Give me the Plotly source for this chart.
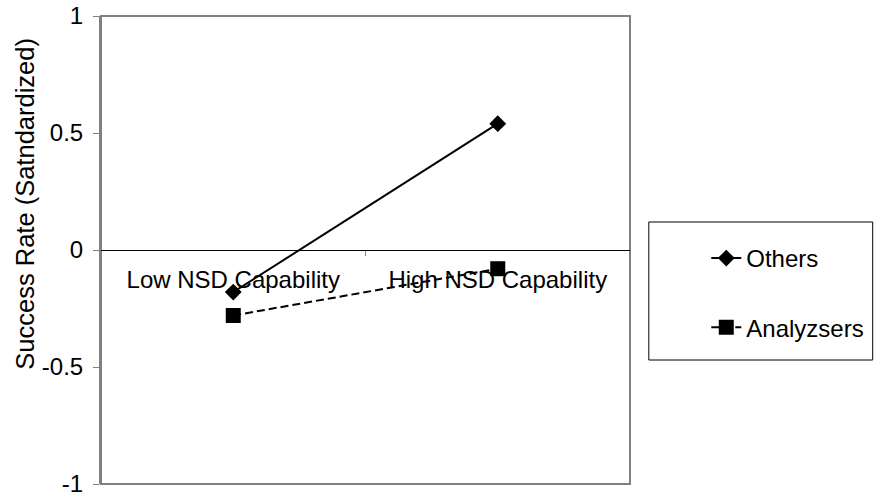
import plotly.graph_objects as go

categories = ["Low NSD Capability", "High NSD Capability"]
others = [-0.18, 0.54]
analyzsers = [-0.28, -0.08]
y_tickvals = [-1, -0.5, 0, 0.5, 1]
y_ticktext = ["-1", "-0.5", "0", "0.5", "1"]

FONT = "Liberation Sans, Arial, sans-serif"
FS = 24

# target plot-area box in page pixels
PL, PR, PT, PB = 101, 635, 16, 484


def px(xp):
    return (xp - PL) / (PR - PL)


def py(yp):
    return (PB - yp) / (PB - PT)


fig = go.Figure()
fig.add_trace(go.Scatter(
    x=categories, y=others, name="Others", mode="lines+markers",
    line=dict(color="black", width=2),
    marker=dict(symbol="diamond", size=13, color="black"),
    legendgroup="a",
))
fig.add_trace(go.Scatter(
    x=categories, y=analyzsers, name="Analyzsers", mode="lines+markers",
    line=dict(color="black", width=2, dash="8px,4px"),
    marker=dict(symbol="square", size=15, color="black"),
    legendgroup="b",
))

fig.update_layout(
    width=881, height=496,
    margin=dict(l=PL, r=881 - PR, t=PT, b=496 - PB),
    plot_bgcolor="white", paper_bgcolor="white",
    font=dict(family=FONT, size=FS, color="black"),
    showlegend=True,
    legend=dict(
        x=px(712), xanchor="left", y=py(236), yanchor="top",
        borderwidth=0, bgcolor="rgba(0,0,0,0)",
        font=dict(size=FS), tracegroupgap=35, itemwidth=30,
    ),
    xaxis=dict(
        type="category", range=[-0.5, 1.5],
        anchor="free", position=0.5, automargin=False,
        showline=True, linecolor="black", linewidth=1,
        ticks="outside", tickson="boundaries", ticklen=5, tickcolor="#808080",
        ticklabelstandoff=8, ticklabeloverflow="allow",
        showgrid=False, zeroline=False, layer="below traces",
        tickfont=dict(size=FS, color="black"),
    ),
    yaxis=dict(
        range=[-1, 1], tickvals=y_tickvals, ticktext=y_ticktext, automargin=False,
        showline=True, linecolor="#808080", linewidth=2,
        ticks="outside", ticklen=6, tickcolor="#808080",
        ticklabelstandoff=5, ticklabeloverflow="allow",
        showgrid=False, zeroline=False,
        tickfont=dict(size=FS, color="black"),
    ),
)
# y-axis title
fig.add_annotation(text="Success Rate (Satndardized)", xref="paper", yref="paper",
                   x=px(24), y=py(204), textangle=-90,
                   showarrow=False, font=dict(size=25.5), xanchor="center", yanchor="middle")
# plot frame
fig.add_shape(type="rect", xref="paper", yref="paper", x0=0, x1=1, y0=0, y1=1,
              line=dict(color="#808080", width=2), layer="below")
# legend frame
fig.add_shape(type="rect", xref="paper", yref="paper",
              x0=px(654), x1=px(880), y0=py(360), y1=py(222),
              line=dict(color="black", width=1))

fig.write_html("out.html", config={"displayModeBar": False},
               post_script="document.body.style.margin='0';document.body.style.overflow='hidden';")
